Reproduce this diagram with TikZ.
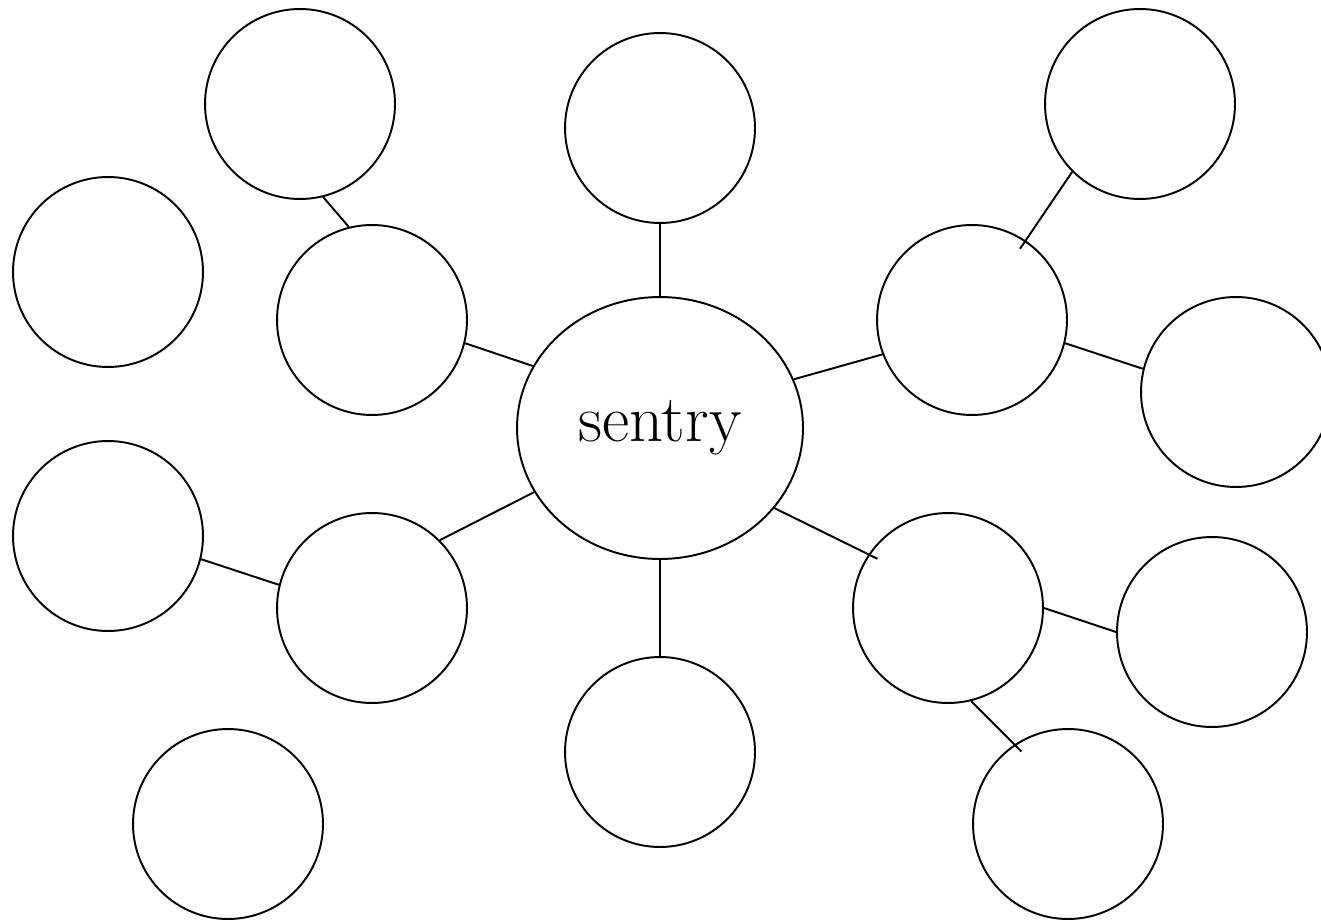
\documentclass[tikz,border=0pt]{standalone}
\usepackage{tikz}
\usetikzlibrary{shapes.geometric}

\begin{document}
\begin{tikzpicture}[x=0.02cm,y=-0.02cm,line width=1.1pt,
  bubble/.style={circle,draw,inner sep=0pt,minimum size=3.8cm},
  hub/.style={ellipse,draw,inner sep=0pt,minimum width=5.72cm,minimum height=5.24cm,font=\fontsize{38}{42}\selectfont}]
  \clip (0,0) rectangle (1321,919);
  \node[hub] (core) at (660,428) {\raisebox{5pt}{sentry}};
  \node[bubble] (top) at (660,128) {};
  \node[bubble] (bot) at (660,752) {};
  \node[bubble] (uli) at (372,320) {};
  \node[bubble] (ulo) at (300,104) {};
  \node[bubble] (ful) at (108,272) {};
  \node[bubble] (lli) at (372,608) {};
  \node[bubble] (llo) at (108,536) {};
  \node[bubble] (bl) at (228,824) {};
  \node[bubble] (uri) at (972,320) {};
  \node[bubble] (uro) at (1140,104) {};
  \node[bubble] (rgt) at (1236,392) {};
  \node[bubble] (lri) at (948,608) {};
  \node[bubble] (lro) at (1212,632) {};
  \node[bubble] (br) at (1068,824) {};
  \draw (top.south)--(core.north);
  \draw (core.south)--(bot.north);
  \draw (uli.-14)--(core.154);
  \draw (lli.45)--(core.207);
  \draw (ulo.-76)--(uli.104);
  \draw (llo.-14)--(lli.166);
  \draw (core.20)--(uri.201);
  \draw[shorten >=-0.2cm] (uro.225)--(uri.56);
  \draw (uri.-14)--(rgt.166);
  \draw[shorten >=-0.2cm] (core.-35)--(lri.146);
  \draw (lri.east)--(lro.west);
  \draw[shorten >=-0.2cm] (lri.-76)--(br.124);
\end{tikzpicture}
\end{document}
